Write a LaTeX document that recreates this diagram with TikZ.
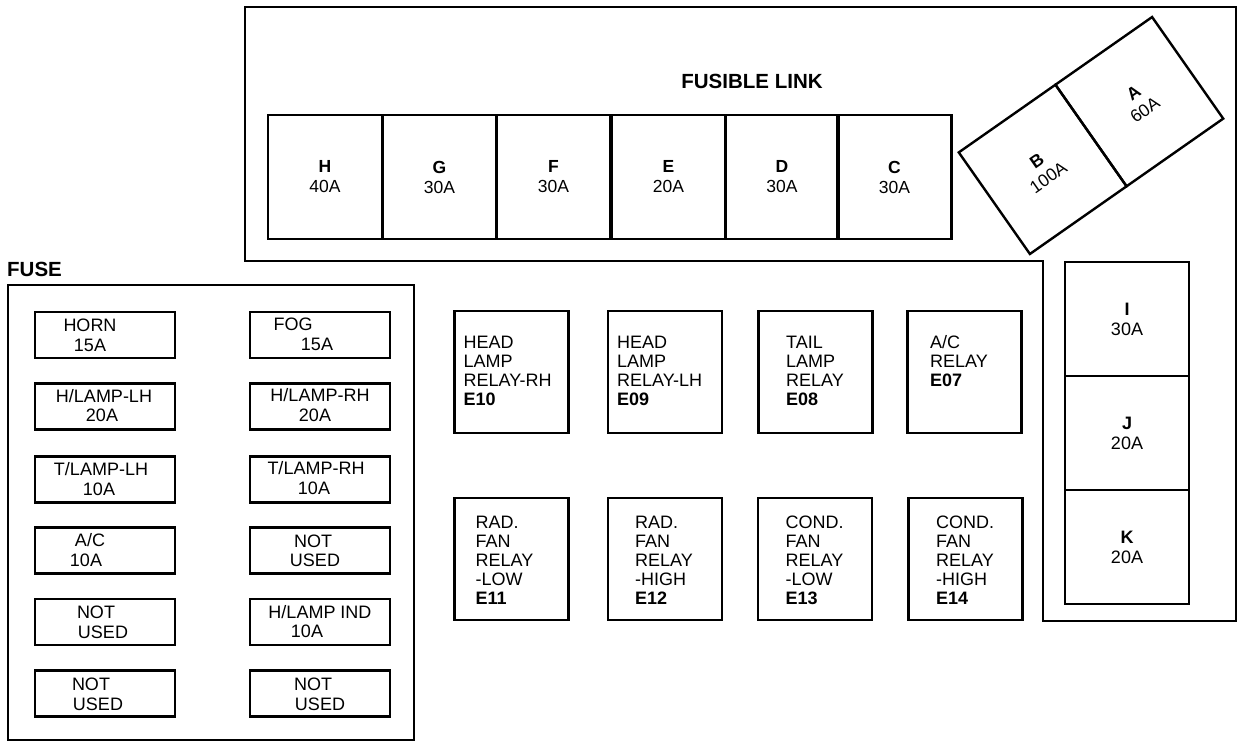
\documentclass[tikz,border=0pt]{standalone}
\usepackage{fontspec}
\setmainfont{Liberation Sans}
\begin{document}
\begin{tikzpicture}[x=1pt,y=-1pt,
  panel/.style={draw, line width=2.4pt, line join=miter},
  cell/.style={draw, line width=2.4pt, rectangle, inner sep=0pt, align=center},
  linkcell/.style={cell, minimum width=114pt, minimum height=124pt, font=\fontsize{17.5}{20}\selectfont},
  sidecell/.style={cell, minimum width=124pt, minimum height=114pt, font=\fontsize{18}{20}\selectfont},
  fusebox/.style={cell, minimum width=140pt, minimum height=46pt},
  relaybox/.style={cell, minimum width=114pt, minimum height=122pt},
  ftxt/.style={inner sep=0pt, font=\fontsize{18}{20}\selectfont},
  rtxt/.style={inner sep=0pt, anchor=north west, align=left, font=\fontsize{18}{19}\selectfont},
  title/.style={inner sep=0pt, font=\bfseries\fontsize{20.5}{22}\selectfont}]
\useasboundingbox (0,0) rectangle (1248,748);

% ---------- fusible link outline ----------
\draw[panel] (245,7) -- (1236,7) -- (1236,621) -- (1043,621) -- (1043,261) -- (245,261) -- cycle;
\node[title] (fltitle) at (752,81) {FUSIBLE LINK};

\node[linkcell] (H) at (325,177) {\textbf{H}\\40A};
\node[linkcell] (G) at (439.5,177) {\textbf{G}\\30A};
\node[linkcell] (F) at (553.5,177) {\textbf{F}\\30A};
\node[linkcell] (E) at (668.5,177) {\textbf{E}\\20A};
\node[linkcell] (D) at (782,177) {\textbf{D}\\30A};
\node[linkcell] (C) at (894.5,177) {\textbf{C}\\30A};

\begin{scope}[shift={(1091,135.5)}, rotate=35]
  \node[cell, transform shape, minimum width=118pt, minimum height=124pt, font=\fontsize{17.5}{20}\selectfont] (B) at (-59,0) {\textbf{B}\\100A};
  \node[cell, transform shape, minimum width=118pt, minimum height=124pt, font=\fontsize{17.5}{20}\selectfont] (A) at (59,0) {\textbf{A}\\60A};
\end{scope}

\node[sidecell] (I) at (1127,319) {\textbf{I}\\30A};
\node[sidecell] (J) at (1127,433) {\textbf{J}\\20A};
\node[sidecell] (K) at (1127,547) {\textbf{K}\\20A};

% ---------- relays ----------
\node[relaybox] (r10) at (511.5,372) {};
\node[relaybox] (r09) at (665,372) {};
\node[relaybox] (r08) at (815.5,372) {};
\node[relaybox] (r07) at (964.5,372) {};
\node[relaybox] (r11) at (511.5,559) {};
\node[relaybox] (r12) at (665,559) {};
\node[relaybox] (r13) at (815,559) {};
\node[relaybox] (r14) at (965.5,559) {};

\node[rtxt] (t10) at (463.5,335.5) {HEAD\\LAMP\\RELAY-RH\\\textbf{E10}};
\node[rtxt] (t09) at (617,335.5) {HEAD\\LAMP\\RELAY-LH\\\textbf{E09}};
\node[rtxt] (t08) at (786,335.5) {TAIL\\LAMP\\RELAY\\\textbf{E08}};
\node[rtxt] (t07) at (930,335.5) {A/C\\RELAY\\\textbf{E07}};
\node[rtxt] (t11) at (475.5,515.5) {RAD.\\FAN\\RELAY\\-LOW\\\textbf{E11}};
\node[rtxt] (t12) at (635,515.5) {RAD.\\FAN\\RELAY\\-HIGH\\\textbf{E12}};
\node[rtxt] (t13) at (785.5,515.5) {COND.\\FAN\\RELAY\\-LOW\\\textbf{E13}};
\node[rtxt] (t14) at (936,515.5) {COND.\\FAN\\RELAY\\-HIGH\\\textbf{E14}};

% ---------- fuse panel ----------
\node[title, anchor=west] (fusetitle) at (7,269) {FUSE};
\draw[panel] (8,285) rectangle (414,740);

\node[fusebox] (fL1) at (105,335) {};
\node[fusebox] (fL2) at (105,406.5) {};
\node[fusebox] (fL3) at (105,479.5) {};
\node[fusebox] (fL4) at (105,550.5) {};
\node[fusebox] (fL5) at (105,622) {};
\node[fusebox] (fL6) at (105,693.5) {};
\node[fusebox] (fR1) at (320,335) {};
\node[fusebox] (fR2) at (320,406.5) {};
\node[fusebox] (fR3) at (320,479.5) {};
\node[fusebox] (fR4) at (320,550.5) {};
\node[fusebox] (fR5) at (320,622) {};
\node[fusebox] (fR6) at (320,693.5) {};

\node[ftxt] (fL1a) at (90,325) {HORN};
\node[ftxt] (fL1b) at (90,345) {15A};
\node[ftxt] (fL2a) at (104,396) {H/LAMP-LH};
\node[ftxt] (fL2b) at (102,415) {20A};
\node[ftxt] (fL3a) at (101,469) {T/LAMP-LH};
\node[ftxt] (fL3b) at (99,489) {10A};
\node[ftxt] (fL4a) at (90,540) {A/C};
\node[ftxt] (fL4b) at (86,560) {10A};
\node[ftxt] (fL5a) at (96,612) {NOT};
\node[ftxt] (fL5b) at (103,632) {USED};
\node[ftxt] (fL6a) at (91,684) {NOT};
\node[ftxt] (fL6b) at (98,704) {USED};

\node[ftxt] (fR1a) at (293,324) {FOG};
\node[ftxt] (fR1b) at (317,344) {15A};
\node[ftxt] (fR2a) at (320,395) {H/LAMP-RH};
\node[ftxt] (fR2b) at (315,415) {20A};
\node[ftxt] (fR3a) at (316,468) {T/LAMP-RH};
\node[ftxt] (fR3b) at (314,488) {10A};
\node[ftxt] (fR4a) at (313,541) {NOT};
\node[ftxt] (fR4b) at (315,560) {USED};
\node[ftxt] (fR5a) at (320,612) {H/LAMP IND};
\node[ftxt] (fR5b) at (307,631) {10A};
\node[ftxt] (fR6a) at (313,684) {NOT};
\node[ftxt] (fR6b) at (320,704) {USED};
\end{tikzpicture}
\end{document}
